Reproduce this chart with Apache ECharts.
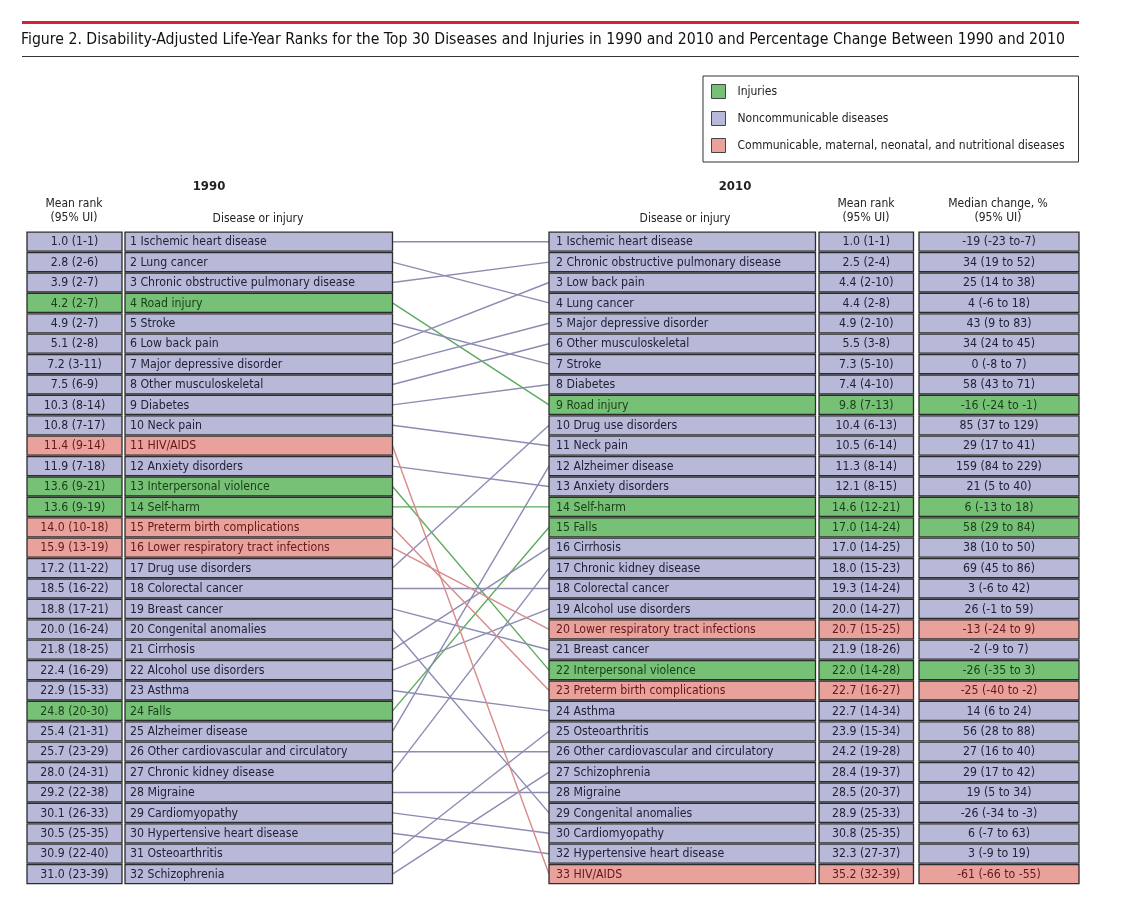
<!DOCTYPE html>
<html>
<head>
<meta charset="utf-8">
<script src="https://cdn.jsdelivr.net/npm/echarts@6/dist/echarts.min.js"></script>
<style>
html,body{margin:0;padding:0;background:#fff;}
#chart{width:1135px;height:903px;}
</style>
</head>
<body>
<div id="chart"></div>
<script>
// ---------------- DATA ----------------
const categoryNames = ['Injuries', 'Noncommunicable diseases', 'Communicable, maternal, neonatal, and nutritional diseases'];

const names1990 = ['Ischemic heart disease', 'Lung cancer', 'Chronic obstructive pulmonary disease', 'Road injury', 'Stroke', 'Low back pain', 'Major depressive disorder', 'Other musculoskeletal', 'Diabetes', 'Neck pain', 'HIV/AIDS', 'Anxiety disorders', 'Interpersonal violence', 'Self-harm', 'Preterm birth complications', 'Lower respiratory tract infections', 'Drug use disorders', 'Colorectal cancer', 'Breast cancer', 'Congenital anomalies', 'Cirrhosis', 'Alcohol use disorders', 'Asthma', 'Falls', 'Alzheimer disease', 'Other cardiovascular and circulatory', 'Chronic kidney disease', 'Migraine', 'Cardiomyopathy', 'Hypertensive heart disease', 'Osteoarthritis', 'Schizophrenia'];

const meanRank1990 = ['1.0 (1-1)', '2.8 (2-6)', '3.9 (2-7)', '4.2 (2-7)', '4.9 (2-7)', '5.1 (2-8)', '7.2 (3-11)', '7.5 (6-9)', '10.3 (8-14)', '10.8 (7-17)', '11.4 (9-14)', '11.9 (7-18)', '13.6 (9-21)', '13.6 (9-19)', '14.0 (10-18)', '15.9 (13-19)', '17.2 (11-22)', '18.5 (16-22)', '18.8 (17-21)', '20.0 (16-24)', '21.8 (18-25)', '22.4 (16-29)', '22.9 (15-33)', '24.8 (20-30)', '25.4 (21-31)', '25.7 (23-29)', '28.0 (24-31)', '29.2 (22-38)', '30.1 (26-33)', '30.5 (25-35)', '30.9 (22-40)', '31.0 (23-39)'];

// category of each 1990 row: 0 injuries, 1 noncommunicable, 2 communicable
const category1990 = [1, 1, 1, 0, 1, 1, 1, 1, 1, 1, 2, 1, 0, 0, 2, 2, 1, 1, 1, 1, 1, 1, 1, 0, 1, 1, 1, 1, 1, 1, 1, 1];

// row (position) in the 2010 column for each 1990 row
const row2010Of1990 = [1, 4, 2, 9, 7, 3, 5, 6, 8, 11, 32, 13, 22, 14, 23, 20, 10, 18, 21, 29, 16, 19, 24, 15, 12, 26, 17, 28, 30, 31, 25, 27];

const rank2010 = [1, 2, 3, 4, 5, 6, 7, 8, 9, 10, 11, 12, 13, 14, 15, 16, 17, 18, 19, 20, 21, 22, 23, 24, 25, 26, 27, 28, 29, 30, 32, 33];

const names2010 = ['Ischemic heart disease', 'Chronic obstructive pulmonary disease', 'Low back pain', 'Lung cancer', 'Major depressive disorder', 'Other musculoskeletal', 'Stroke', 'Diabetes', 'Road injury', 'Drug use disorders', 'Neck pain', 'Alzheimer disease', 'Anxiety disorders', 'Self-harm', 'Falls', 'Cirrhosis', 'Chronic kidney disease', 'Colorectal cancer', 'Alcohol use disorders', 'Lower respiratory tract infections', 'Breast cancer', 'Interpersonal violence', 'Preterm birth complications', 'Asthma', 'Osteoarthritis', 'Other cardiovascular and circulatory', 'Schizophrenia', 'Migraine', 'Congenital anomalies', 'Cardiomyopathy', 'Hypertensive heart disease', 'HIV/AIDS'];

const meanRank2010 = ['1.0 (1-1)', '2.5 (2-4)', '4.4 (2-10)', '4.4 (2-8)', '4.9 (2-10)', '5.5 (3-8)', '7.3 (5-10)', '7.4 (4-10)', '9.8 (7-13)', '10.4 (6-13)', '10.5 (6-14)', '11.3 (8-14)', '12.1 (8-15)', '14.6 (12-21)', '17.0 (14-24)', '17.0 (14-25)', '18.0 (15-23)', '19.3 (14-24)', '20.0 (14-27)', '20.7 (15-25)', '21.9 (18-26)', '22.0 (14-28)', '22.7 (16-27)', '22.7 (14-34)', '23.9 (15-34)', '24.2 (19-28)', '28.4 (19-37)', '28.5 (20-37)', '28.9 (25-33)', '30.8 (25-35)', '32.3 (27-37)', '35.2 (32-39)'];

const medianChange = ['-19 (-23 to-7)', '34 (19 to 52)', '25 (14 to 38)', '4 (-6 to 18)', '43 (9 to 83)', '34 (24 to 45)', '0 (-8 to 7)', '58 (43 to 71)', '-16 (-24 to -1)', '85 (37 to 129)', '29 (17 to 41)', '159 (84 to 229)', '21 (5 to 40)', '6 (-13 to 18)', '58 (29 to 84)', '38 (10 to 50)', '69 (45 to 86)', '3 (-6 to 42)', '26 (-1 to 59)', '-13 (-24 to 9)', '-2 (-9 to 7)', '-26 (-35 to 3)', '-25 (-40 to -2)', '14 (6 to 24)', '56 (28 to 88)', '27 (16 to 40)', '29 (17 to 42)', '19 (5 to 34)', '-26 (-34 to -3)', '6 (-7 to 63)', '3 (-9 to 19)', '-61 (-66 to -55)'];

// ---------------- STYLE / LAYOUT ----------------
const FONT = "'DejaVu Sans Condensed', 'Liberation Sans Narrow', 'Liberation Sans', sans-serif";
const fills = ['#77c177', '#b8b8d9', '#e9a19c'];
const lineColors = ['#5daa5d', '#8c8cb2', '#d98a8a'];
const textColors = ['#1a401a', '#222236', '#641818'];
// column extents along the x axis (axis units)
const COL = {
  lRank: [0, 95], lName: [98, 365.5],
  rName: [522, 788.5], rRank: [792, 886.5], rChange: [892, 1052]
};

const chart = echarts.init(document.getElementById('chart'), null, {renderer: 'canvas'});

function renderItem(params, api) {
  const row90 = api.value(0);
  const row10 = api.value(1);
  const i = api.value(2);
  const j = row10 - 1;
  const cat = category1990[i];
  const h = api.size([0, 1])[1] * 0.93;
  const children = [];
  function box(col, row, text, align, pad) {
    const p0 = api.coord([col[0], row]);
    const p1 = api.coord([col[1], row]);
    children.push({
      type: 'rect',
      shape: {x: p0[0], y: p0[1] - h / 2, width: p1[0] - p0[0], height: h},
      style: {fill: fills[cat], stroke: '#2c2c2c', lineWidth: 1.3}
    });
    children.push({
      type: 'text',
      style: {
        text: text,
        x: align === 'center' ? (p0[0] + p1[0]) / 2 : p0[0] + pad,
        y: p0[1] + 0.5,
        textAlign: align,
        textVerticalAlign: 'middle',
        font: '12.2px ' + FONT,
        fill: textColors[cat]
      }
    });
  }
  const a = api.coord([COL.lName[1], row90]);
  const b = api.coord([COL.rName[0], row10]);
  children.push({
    type: 'line',
    shape: {x1: a[0], y1: a[1], x2: b[0], y2: b[1]},
    style: {stroke: lineColors[cat], lineWidth: 1.4}
  });
  box(COL.lRank, row90, meanRank1990[i], 'center');
  box(COL.lName, row90, row90 + ' ' + names1990[i], 'left', 5);
  box(COL.rName, row10, rank2010[j] + ' ' + names2010[j], 'left', 7);
  box(COL.rRank, row10, meanRank2010[j], 'center');
  box(COL.rChange, row10, medianChange[j], 'center');
  return {type: 'group', children: children};
}

const series = categoryNames.map(function (name, c) {
  const data = [];
  for (let i = 0; i < names1990.length; i++) {
    if (category1990[i] === c) data.push([i + 1, row2010Of1990[i], i]);
  }
  return {
    type: 'custom',
    name: name,
    renderItem: renderItem,
    data: data,
    clip: false,
    itemStyle: {color: fills[c], borderColor: '#2c2c2c', borderWidth: 1},
    encode: {x: -1, y: 0}
  };
});

function hdr(text, x, y, font) {
  return {
    type: 'text',
    style: {text: text, x: x, y: y, textAlign: 'center', textVerticalAlign: 'middle', font: font || ('12px ' + FONT), fill: '#222'}
  };
}

const option = {
  backgroundColor: '#fff',
  animation: false,
  title: {
    text: 'Figure 2. Disability-Adjusted Life-Year Ranks for the Top 30 Diseases and Injuries in 1990 and 2010 and Percentage Change Between 1990 and 2010',
    left: 21, top: 32, padding: 0,
    textStyle: {fontFamily: FONT, fontSize: 15.7, fontWeight: 'normal', color: '#111'}
  },
  legend: {
    orient: 'vertical',
    left: 703, top: 76,
    padding: [8, 14, 9, 8],
    itemGap: 12,
    itemWidth: 14, itemHeight: 14,
    icon: 'rect',
    borderColor: '#333', borderWidth: 1,
    itemStyle: {borderColor: '#444', borderWidth: 1},
    textStyle: {fontFamily: FONT, fontSize: 12, color: '#222', padding: [0, 0, 0, 7]},
    data: categoryNames
  },
  grid: {left: 27, right: 56, top: 231.5, bottom: 18.7},
  xAxis: {type: 'value', min: 0, max: 1052, show: false},
  yAxis: {type: 'value', min: 0.5, max: 32.5, inverse: true, show: false},
  series: series,
  graphic: [
    {type: 'rect', shape: {x: 22, y: 21, width: 1057, height: 3}, style: {fill: '#d2233b'}},
    {type: 'rect', shape: {x: 22, y: 56, width: 1057, height: 1}, style: {fill: '#333'}},
    hdr('1990', 209, 187, 'bold 13px ' + FONT),
    hdr('2010', 735, 187, 'bold 13px ' + FONT),
    hdr('Mean rank', 74, 204),
    hdr('(95% UI)', 74, 218),
    hdr('Disease or injury', 258, 219),
    hdr('Disease or injury', 685, 219),
    hdr('Mean rank', 866, 204),
    hdr('(95% UI)', 866, 218),
    hdr('Median change, %', 998, 204),
    hdr('(95% UI)', 998, 218)
  ]
};
chart.setOption(option);
</script>
</body>
</html>
